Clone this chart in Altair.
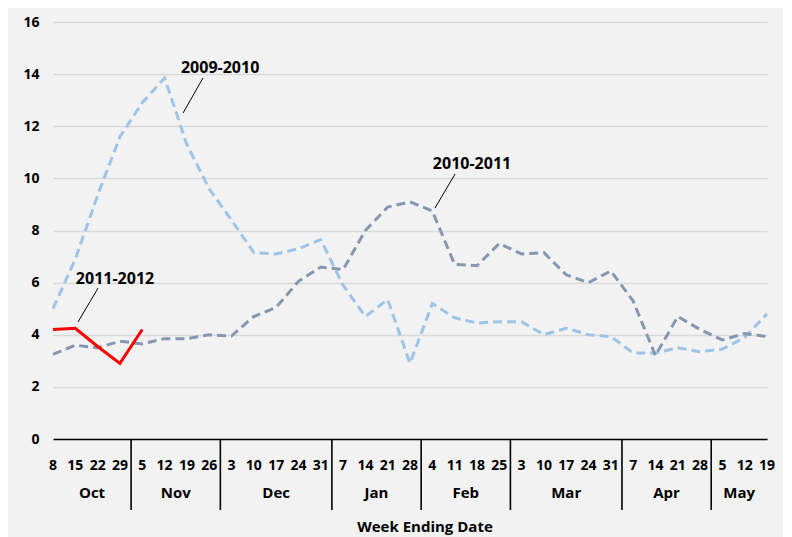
import altair as alt
import pandas as pd

# ---------------- data ----------------
days = [8, 15, 22, 29, 5, 12, 19, 26, 3, 10, 17, 24, 31, 7, 14, 21, 28,
        4, 11, 18, 25, 3, 10, 17, 24, 31, 7, 14, 21, 28, 5, 12, 19]
months = ["Oct", "Nov", "Dec", "Jan", "Feb", "Mar", "Apr", "May"]
month_weeks = [4, 4, 5, 4, 4, 5, 4, 3]

season_0910 = [5.0, 6.9, 9.35, 11.6, 12.9, 13.85, 11.3, 9.6, 8.4, 7.15, 7.1, 7.3, 7.65,
               5.9, 4.7, 5.35, 2.9, 5.2, 4.65, 4.45, 4.5, 4.5, 4.0, 4.25, 4.0, 3.93,
               3.3, 3.3, 3.5, 3.35, 3.45, 3.9, 4.8]
season_1011 = [3.25, 3.6, 3.5, 3.75, 3.65, 3.85, 3.85, 4.0, 3.95, 4.7, 5.05, 6.05, 6.6,
               6.5, 8.0, 8.9, 9.1, 8.75, 6.7, 6.65, 7.5, 7.1, 7.15, 6.3, 6.0, 6.45,
               5.3, 3.2, 4.7, 4.2, 3.8, 4.05, 3.93]
season_1112 = [4.2, 4.25, 3.55, 2.9, 4.2]

y_ticks = [0, 2, 4, 6, 8, 10, 12, 14, 16]
x_title = "Week Ending Date"

annot_labels = ["2009-2010", "2010-2011", "2011-2012"]
annot_text_x = [7.49, 18.78, 2.78]
annot_text_y = [14.24, 10.55, 6.14]
annot_line_x1 = [6.72, 18.02, 2.02]
annot_line_y1 = [13.85, 10.17, 5.79]
annot_line_x2 = [5.83, 17.12, 1.12]
annot_line_y2 = [12.51, 8.86, 4.49]

# ---------------- tables ----------------
n = len(days)
df_0910 = pd.DataFrame({"x": list(range(len(season_0910))), "y": season_0910})
df_1011 = pd.DataFrame({"x": list(range(len(season_1011))), "y": season_1011})
df_1112 = pd.DataFrame({"x": list(range(len(season_1112))), "y": season_1112})
df_days = pd.DataFrame({"x": list(range(n)), "label": [str(d) for d in days]})

bounds = []
c = 0
for w in month_weeks:
    c += w
    bounds.append(c - 0.5)
starts = [0] + bounds[:-1]
ends = bounds[:-1] + [n - 1]
df_months = pd.DataFrame({"x": [(a + b) / 2 for a, b in zip(starts, ends)], "label": months})
df_sep = pd.DataFrame({"x": bounds[:-1]})
df_title = pd.DataFrame({"t": [x_title]})
df_annot = pd.DataFrame({"x": annot_text_x, "y": annot_text_y, "label": annot_labels})
df_lead = pd.DataFrame({"x": annot_line_x1, "y": annot_line_y1,
                        "x2": annot_line_x2, "y2": annot_line_y2})

# ---------------- scales / axes ----------------
W, H = 714, 417
FONT = "Open Sans"
xscale = alt.Scale(domain=[0, n - 1], nice=False, zero=False)
yscale = alt.Scale(domain=[0, 16], nice=False, zero=True)
xaxis = alt.Axis(title=None, labels=False, ticks=False, grid=False, domain=True,
                 domainColor="black", domainWidth=1.6)
yaxis = alt.Axis(title=None, values=y_ticks, grid=True, gridColor="#d9d9d9", gridWidth=1.3,
                 domain=False, ticks=False, labelFont=FONT, labelFontWeight="bold",
                 labelFontSize=14, labelColor="black", labelPadding=14)

X = alt.X("x:Q", scale=xscale, axis=xaxis)
Y = alt.Y("y:Q", scale=yscale, axis=yaxis)

l0910 = alt.Chart(df_0910).mark_line(color="#9dc3e6", strokeWidth=3, strokeDash=[9, 5]).encode(x=X, y=Y)
l1011 = alt.Chart(df_1011).mark_line(color="#8497b0", strokeWidth=3, strokeDash=[9, 5]).encode(x=X, y=Y)
l1112 = alt.Chart(df_1112).mark_line(color="#ff0000", strokeWidth=3).encode(x=X, y=Y)

lead = alt.Chart(df_lead).mark_rule(color="black", strokeWidth=1).encode(
    x=X, y=Y, x2="x2:Q", y2="y2:Q")
annot = alt.Chart(df_annot).mark_text(font=FONT, fontWeight="bold", fontSize=16,
                                      color="black", baseline="middle").encode(
    x=X, y=Y, text="label:N")

day_lbl = alt.Chart(df_days).mark_text(font=FONT, fontWeight="bold", fontSize=14,
                                       color="black", baseline="middle").encode(
    x=X, y=alt.value(444), text="label:N")
mon_lbl = alt.Chart(df_months).mark_text(font=FONT, fontWeight="bold", fontSize=15,
                                         color="black", baseline="middle").encode(
    x=X, y=alt.value(471), text="label:N")
seps = alt.Chart(df_sep).mark_rule(color="black", strokeWidth=1.6).encode(
    x=X, y=alt.value(H), y2=alt.value(488))
title = alt.Chart(df_title).mark_text(font=FONT, fontWeight="bold", fontSize=15,
                                      color="black", baseline="middle").encode(
    x=alt.value(372), y=alt.value(505), text="t:N")

chart = alt.layer(l0910, l1011, l1112, lead, annot, day_lbl, mon_lbl, seps, title).properties(
    width=W, height=H,
    autosize=alt.AutoSizeParams(type="none"),
    padding={"left": 45, "top": 14, "right": 16, "bottom": 98},
    background="#f2f2f2",
).configure_view(stroke=None)

chart.save("out.html", embed_options={"renderer": "svg", "actions": False})
